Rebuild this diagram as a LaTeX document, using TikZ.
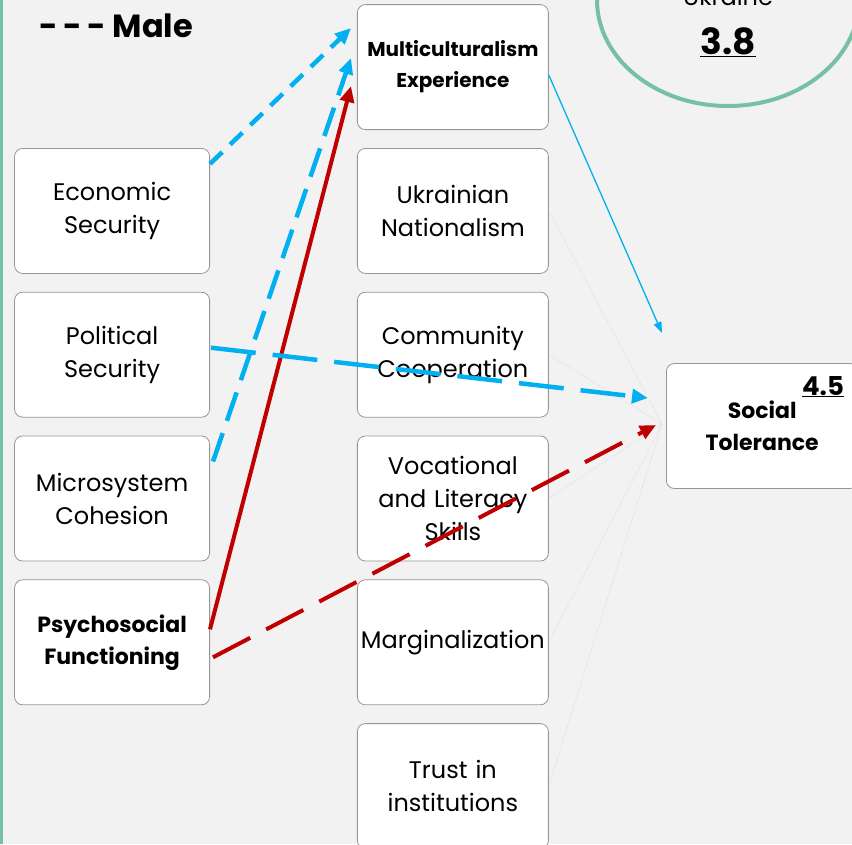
\documentclass[tikz,border=0pt]{standalone}
\usepackage{fontspec}
\setmainfont{Poppins}
\usetikzlibrary{arrows.meta}
\definecolor{bggray}{RGB}{242,242,242}
\definecolor{boxgray}{RGB}{150,150,150}
\definecolor{lineblue}{RGB}{0,176,240}
\definecolor{linered}{RGB}{192,0,0}
\definecolor{ringgreen}{RGB}{118,192,164}
\definecolor{faintgray}{RGB}{212,212,212}
\begin{document}
\begin{tikzpicture}[x=1pt, y=-1pt,
    box/.style={draw=boxgray, line width=0.8pt, fill=white, rounded corners=8pt, anchor=center,
      align=center, minimum height=125pt, font=\fontsize{24}{33}\selectfont},
    leftbox/.style={box, minimum width=195pt, text width=185pt},
    midbox/.style={box, minimum width=191pt, text width=185pt},
    boldtext/.style={font=\fontsize{20}{31}\selectfont\bfseries},
    bigbold/.style={font=\fontsize{22}{32}\selectfont\bfseries},
    bluedash/.style={draw=lineblue, line width=4.5pt, -{Triangle[length=16pt,width=14pt]}},
    redline/.style={draw=linered, line width=4pt, -{Triangle[length=16pt,width=14pt]}},
    faint/.style={draw=faintgray, line width=0.6pt, densely dotted}]
  \useasboundingbox (0,0) rectangle (852,844);
  \clip (0,0) rectangle (852,844);
  \fill[bggray] (0,0) rectangle (852,844);
  \fill[ringgreen] (0,0) rectangle (3,844);
  % ukraine mean
  \draw[ringgreen, line width=4pt] (728,0) ellipse [x radius=131, y radius=106];
  \node[anchor=base, font=\fontsize{24}{28}\selectfont] (Ukr) at (728,5) {Ukraine};
  \node[anchor=base, font=\fontsize{36}{40}\selectfont\bfseries] (UkrMean) at (728,54) {\underline{3.8}};
  \node[anchor=base west, font=\fontsize{32}{36}\selectfont\bfseries] (Legend) at (36,37) {-\,-\,-\ Male};
  \matrix[anchor=north west, inner sep=0pt, column sep=147pt, row sep=18pt] at (14,4) {
    & \node[midbox, boldtext] (MultiExp) {Multiculturalism\\Experience}; \\
    \node[leftbox] (EconSec) {Economic\\Security}; & \node[midbox] (UkrNat) {Ukrainian\\Nationalism}; \\
    \node[leftbox] (PolSec) {Political\\Security}; & \node[midbox] (CommCoop) {Community\\Cooperation}; \\
    \node[leftbox] (MicroCoh) {Microsystem\\Cohesion}; & \node[midbox] (VocLit) {Vocational\\and Literacy\\Skills}; \\
    \node[leftbox, bigbold] (PsyFun) {Psychosocial\\Functioning}; & \node[midbox] (Margin) {Marginalization}; \\
    & \node[midbox] (Trust) {Trust in\\institutions}; \\
  };
  \node[midbox, bigbold, anchor=west] (SocTol) at (666,426) {Social\\Tolerance};
  \node[anchor=base, font=\fontsize{26}{30}\selectfont\bfseries] (SocTolMean) at (823,395) {\underline{4.5}};
  \coordinate (Hub) at (662,424);
  % non-significant paths
  \foreach \n in {UkrNat, CommCoop, VocLit, Margin, Trust}
    \draw[faint] (\n.east) -- (Hub);
  % significant paths
  \draw[bluedash, dash pattern=on 17pt off 11pt] ([yshift=47pt]EconSec.east) -- ([xshift=-6pt, yshift=39pt]MultiExp.west);
  \draw[bluedash, dash pattern=on 30pt off 13pt] ([xshift=3pt, yshift=37pt]MicroCoh.east) -- ([xshift=-6pt, yshift=9pt]MultiExp.west);
  \draw[redline] ([yshift=13pt]PsyFun.east) -- ([xshift=-6pt, yshift=-19pt]MultiExp.west);
  \draw[bluedash, dash pattern=on 45pt off 17pt] ([xshift=1pt, yshift=7pt]PolSec.east) -- ([xshift=-18pt, yshift=28pt]SocTol.west);
  \draw[redline, dash pattern=on 42pt off 18pt] ([xshift=3pt, yshift=-15pt]PsyFun.east) -- ([xshift=-10pt, yshift=1pt]SocTol.west);
  \draw[lineblue, line width=1.3pt, -{Triangle[length=11pt,width=8pt]}] ([yshift=-8pt]MultiExp.east) -- ([xshift=-4pt, yshift=93pt]SocTol.west);
\end{tikzpicture}
\end{document}
